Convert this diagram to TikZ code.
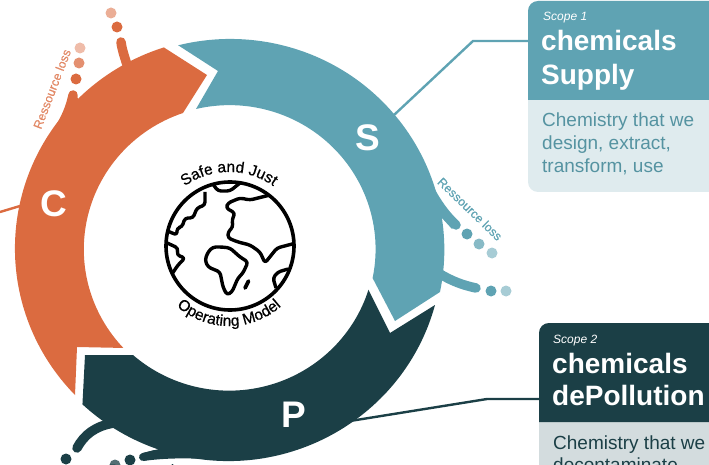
\documentclass[tikz,border=0pt]{standalone}
\usepackage{fontspec}
\setmainfont{Liberation Sans}
\newfontfamily\heavyfont[FakeBold=0.6]{Liberation Sans}
\usetikzlibrary{decorations.text}
\definecolor{supplycol}{HTML}{5FA3B3}
\definecolor{supplylight}{HTML}{DFEBEE}
\definecolor{pollcol}{HTML}{1B3F46}
\definecolor{polllight}{HTML}{D3DCDE}
\definecolor{circcol}{HTML}{DB6B40}
\newcommand{\fs}[1]{\fontsize{#1}{#1}\selectfont}

\begin{document}
\begin{tikzpicture}[
            x=1pt,
            y=-1pt,
            stub/.style={line width=9.5pt, line cap=round},
            link/.style={line width=2.4pt},
            drop/.style={circle, inner sep=0pt, minimum size=11pt},
            letter/.style={text=white, font=\fs{37}\bfseries},
            scopelabel/.style={text=white, anchor=base west, inner sep=0pt, font=\fs{12}\itshape},
            cardtitle/.style={text=white, anchor=base west, inner sep=0pt, font=\fs{28}\bfseries},
            cardtext/.style={anchor=base west, inner sep=0pt, font=\fs{19}},
            losstext/.style={inner sep=0pt, font=\heavyfont\fs{12.3}},
            coast/.style={line width=3.4pt, rounded corners=3pt, line join=round}
        ]
            \useasboundingbox (0,0) rectangle (709,465);
            \clip (0,0) rectangle (709,465);

            % connectors behind the ring
            \coordinate (supplyring) at (394,115);
            \coordinate (supplyelbow) at (473,41);
            \coordinate (supplyport) at (530,41);
            \coordinate (pollring) at (350,421);
            \coordinate (pollelbow) at (487,399);
            \coordinate (pollport) at (541,399);
            \coordinate (circring) at (20,206);
            \coordinate (circend) at (0,212);
            \draw[link, supplycol] (supplyring) -- (supplyelbow) -- (supplyport);
            \draw[link, pollcol] (pollring) -- (pollelbow) -- (pollport);
            \draw[link, circcol] (circring) -- (circend);

            % ring
            \fill[circcol] (75,395) arc[start angle=136, end angle=252.3, x radius=214, y radius=211]
                -- (207,75) -- (183,113)
                arc[start angle=251.3, end angle=136.8, x radius=146, y radius=144]
                -- (77,347) -- cycle;
            \fill[supplycol] (440,292) arc[start angle=11.5, end angle=-104.1, x radius=214, y radius=211]
                -- (218,71) -- (196,109)
                arc[start angle=-103.3, end angle=11.6, x radius=146, y radius=144]
                -- (395,321) -- cycle;
            \fill[pollcol] (435,305) arc[start angle=15.1, end angle=133, x radius=214, y radius=211]
                -- (85,355) -- (133,355)
                arc[start angle=131.2, end angle=17.4, x radius=146, y radius=144]
                -- (390,333) -- cycle;

            % stubs and drops
            \draw[stub, circcol] (128,68) .. controls (125,58) and (122,50) .. (121,42);
            \draw[stub, circcol] (72,105) -- (73,95);
            \fill[circcol] (46,142) .. controls (56,125) and (64,114) .. (68,96) -- (78,98) -- (76,116) -- cycle;
            \node[drop, fill=circcol] (c1) at (117,27) {};
            \node[drop, fill=circcol!55] (c2) at (111,13) {};
            \node[drop, fill=circcol] (c3) at (76,79) {};
            \node[drop, fill=circcol!75] (c4) at (79,63) {};
            \node[drop, fill=circcol!45] (c5) at (80,48) {};
            \draw[stub, supplycol] (440,274) .. controls (452,281) and (462,285) .. (476,288);
            \draw[stub, supplycol] (445,214) -- (456,225);
            \fill[supplycol] (418,150) .. controls (428,178) and (438,200) .. (458,221) -- (452,229) -- (441,217) -- cycle;
            \node[drop, fill=supplycol] (s1) at (467,234) {};
            \node[drop, fill=supplycol!75] (s2) at (479,244) {};
            \node[drop, fill=supplycol!55] (s3) at (492,253) {};
            \node[drop, fill=supplycol] (s4) at (491,291) {};
            \node[drop, fill=supplycol!55] (s5) at (506,291) {};
            \draw[stub, pollcol] (77,448) .. controls (84,435) and (95,426) .. (114,423);
            \draw[line width=8pt, line cap=round, pollcol] (143,457) -- (155,454);
            \fill[pollcol] (143,453) -- (143,461) .. controls (165,458) and (185,458) .. (205,459) -- (175,445) -- cycle;
            \node[drop, fill=pollcol] (p1) at (66,459) {};
            \node[drop, fill=pollcol] (p2) at (130,460) {};
            \node[drop, fill=pollcol!75] (p3) at (115,465) {};

            \node[losstext, text=circcol!80, rotate=69] (closs) at (52,89) {Ressource loss};
            \node[losstext, text=supplycol, rotate=-44] (sloss) at (470,209) {Ressource loss};
            \node[losstext, text=pollcol, anchor=base] (ploss) at (151,473) {Ressource loss};

            \node[letter] (letterc) at (54,204) {C};
            \node[letter] (letters) at (368,138) {S};
            \node[letter] (letterp) at (294,415) {P};

            % globe
            \begin{scope}
                \clip (230,246) circle[radius=64];
                \draw[coast] (205,192) -- (205,205) -- (197,208) -- (193,218) -- (185,218) -- (182,227) -- (177,228) -- (177,235) -- (165,230);
                \draw[coast] (165,242) -- (178,248) -- (177,255) -- (185,258) -- (178,265) -- (170,277);
                \draw[coast] (212,183) -- (218,191) -- (230,191) -- (240,183);
                \draw[coast] (270,195) -- (250,200) -- (240,198) -- (228,203) -- (226,208) -- (235,213) -- (232,220) -- (233,227) -- (228,232) -- (228,238) -- (238,242) -- (250,245) -- (260,252) -- (265,263) -- (277,248) -- (296,243);
                \draw[coast] (213,247) -- (222,247) -- (230,248) -- (240,257) -- (248,262) -- (243,273) -- (238,278) -- (232,292) -- (227,295) -- (223,287) -- (220,272) -- (208,267) -- (205,260) -- (208,252) -- cycle;
                \draw[coast] (276,288) -- (273,278) -- (278,272) -- (288,269);
            \end{scope}
            \draw[line width=3.6pt] (230,246) circle[radius=64];
            \draw[line width=3.8pt, line cap=round] (248.5,281) -- (245,288);
            \path[postaction={decorate, decoration={text along path, text align=center,
                text={|\heavyfont\fs{15.5}|Safe and Just}}}]
                (229,248) ++(-135:76) arc[start angle=-135, end angle=-45, radius=76];
            \path[postaction={decorate, decoration={text along path, text align=center,
                text={|\heavyfont\fs{15.5}|Operating Model}}}]
                (229,247) ++(140:79) arc[start angle=140, end angle=40, radius=79];

            % cards
            \fill[supplylight, rounded corners=10pt] (528,1) rectangle (730,192);
            \fill[supplycol] (528,100) [rounded corners=10pt] -- (528,1) [sharp corners] -- (730,1) -- (730,100) -- cycle;
            \node[scopelabel] (scope1) at (543,21) {Scope 1};
            \node[cardtitle] (supplytitle) at (541,51) {chemicals};
            \node[cardtitle] (supplyname) at (541,85) {Supply};
            \node[cardtext, text=supplycol!90!black] (supplya) at (542,127) {Chemistry that we};
            \node[cardtext, text=supplycol!90!black] (supplyb) at (542,150) {design, extract,};
            \node[cardtext, text=supplycol!90!black] (supplyc) at (542,173) {transform, use};

            \fill[polllight, rounded corners=10pt] (539,323) rectangle (730,500);
            \fill[pollcol] (539,422) [rounded corners=10pt] -- (539,323) [sharp corners] -- (730,323) -- (730,422) -- cycle;
            \node[scopelabel] (scope2) at (553,343) {Scope 2};
            \node[cardtitle] (polltitle) at (552,373) {chemicals};
            \node[cardtitle] (pollname) at (552,405) {dePollution};
            \node[cardtext, text=pollcol] (polla) at (553,449) {Chemistry that we};
            \node[cardtext, text=pollcol] (pollb) at (553,471) {decontaminate};
        \end{tikzpicture}
\end{document}
